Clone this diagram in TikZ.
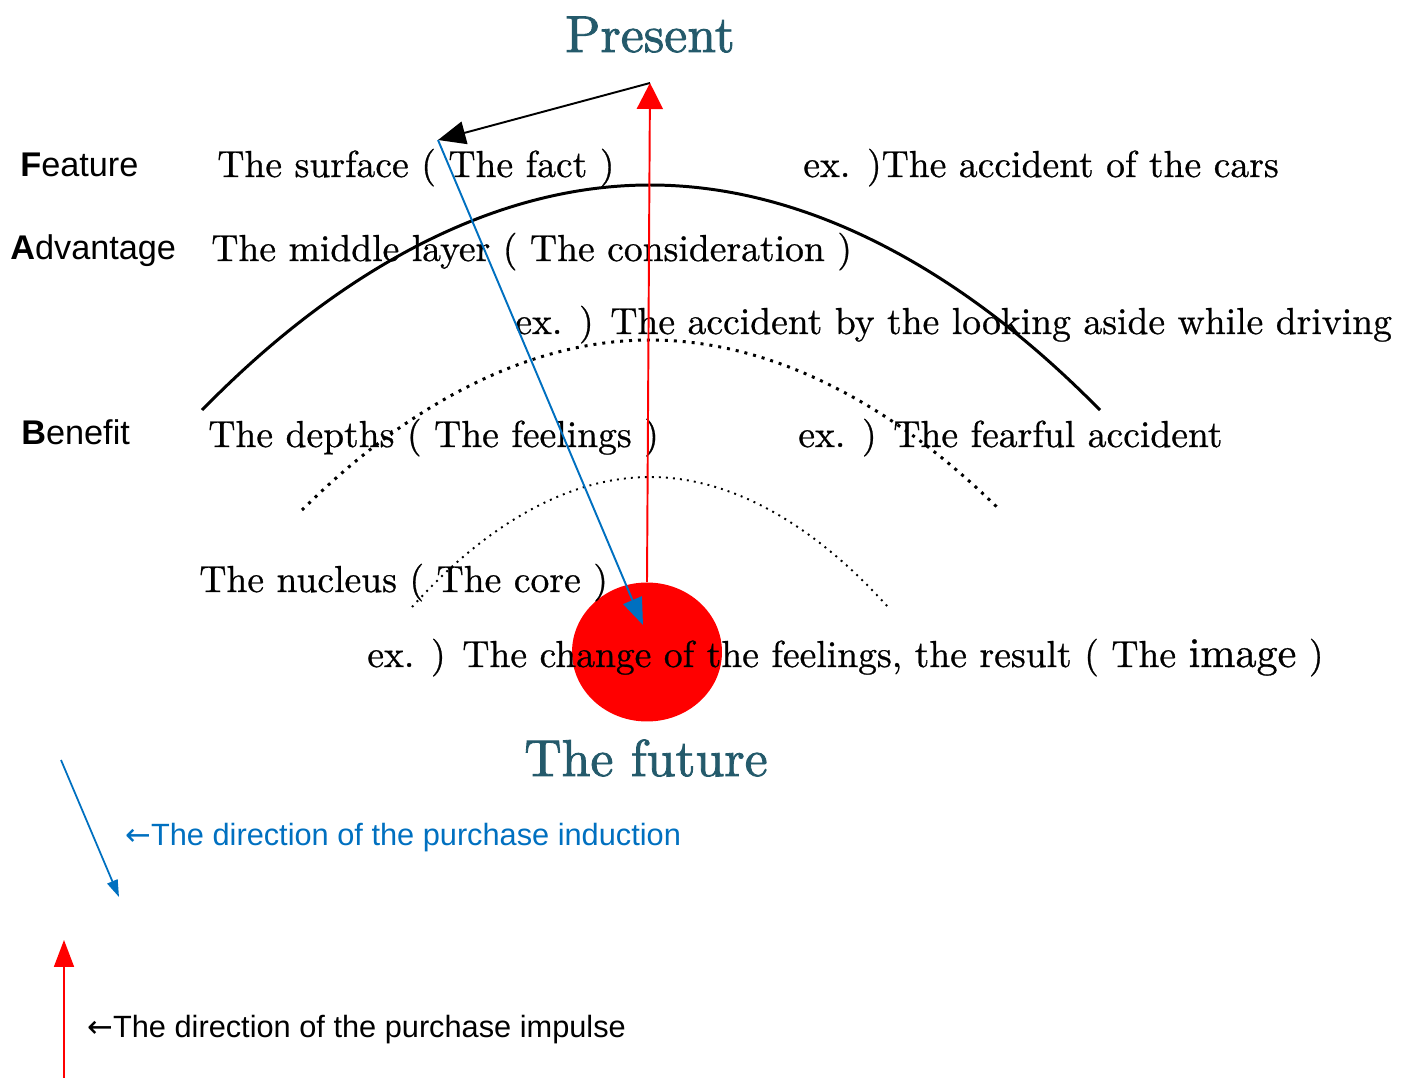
\documentclass[tikz,border=0pt]{standalone}
\usepackage{fontspec}
\newfontfamily\gothic{Liberation Sans}
\newfontfamily\symbfont{DejaVu Sans}
\newfontfamily\century{lmroman10-regular.otf}[FakeBold=0.7]
\newfontfamily\centuryTitle{lmroman10-regular.otf}[FakeBold=1.6]
\usepackage{tikz}
\usetikzlibrary{positioning,arrows.meta,shapes.geometric}
\usepackage{xcolor}
\definecolor{timeTeal}{HTML}{245A6B}
\definecolor{pushBlue}{HTML}{0070C0}
\definecolor{pullRed}{HTML}{FF0000}

\begin{document}
\begin{tikzpicture}[
    x=0.02cm, y=-0.02cm,
    layerText/.style={anchor=base west, inner sep=0pt, font=\century\fontsize{21.4}{25}\selectfont},
    fabLabel/.style={anchor=base west, inner sep=0pt, font=\gothic\fontsize{19.5}{23}\selectfont},
    timeText/.style={anchor=base, inner sep=0pt, text=timeTeal, font=\centuryTitle\fontsize{29.5}{35}\selectfont},
    legendText/.style={anchor=base west, inner sep=0pt, font=\gothic\fontsize{17.5}{21}\selectfont},
    arrowStyle/.style={line width=1.1pt, -{Triangle[length=0.55cm, width=0.46cm]}}
]
    \useasboundingbox (0,0) rectangle (1418,1078);

    % Kern
    \node[ellipse, fill=pullRed, inner sep=0pt, minimum width=3cm, minimum height=2.78cm] (core) at (647,652) {};

    % Schichten
    \draw[line width=1.7pt] (202,410) parabola bend (650,185) (1100,410);
    \draw[line width=1.7pt, dash pattern=on 1.7pt off 3.4pt] (302,510) parabola bend (650,340) (1000,510);
    \draw[line width=1.1pt, dash pattern=on 1.1pt off 2.9pt] (412,607) parabola bend (650,477) (888,607);

    \node[timeText] (present) at (650,52) {Present};
    \node[timeText] (future) at (646,776) {The future};

    % FAB
    \node[fabLabel] (feat) at (20,176) {\textbf{F}eature};
    \node[fabLabel] (adv) at (10,259) {\textbf{A}dvantage};
    \node[fabLabel] (bene) at (21,444) {\textbf{B}enefit};

    \node[layerText] (surface) at (217,177) {The surface ( The fact )};
    \node[layerText] (surfaceEx) at (803,177) {ex. )The accident of the cars};
    \node[layerText] (middle) at (211,261) {The middle layer ( The consideration )};
    \node[layerText] (middleEx) at (515,334) {ex. ) The accident by the looking aside while driving};
    \node[layerText] (depths) at (208,447) {The depths ( The feelings )};
    \node[layerText] (depthsEx) at (798,447) {ex. ) The fearful accident};
    \node[layerText] (nucleus) at (199,592) {The nucleus ( The core )};
    \node[layerText] (nucleusEx) at (367,667) {ex. ) The change of the feelings, the result ( The {\fontsize{24}{28}\selectfont image} )};

    % Pfeile
    \coordinate (apex) at (650,83);
    \coordinate (surf) at (438,140);
    \coordinate (hit) at (643,625);
    \draw[arrowStyle] (apex) -- (surf);
    \draw[arrowStyle, draw=pullRed, fill=pullRed, line width=1.1pt, -{Triangle[length=0.52cm, width=0.52cm]}] (core.north) -- (apex);
    \draw[arrowStyle, draw=pushBlue, fill=pushBlue, line width=1.1pt, -{Triangle[length=0.54cm, width=0.4cm]}] (surf) -- (hit);

    % Legende
    \coordinate (indStart) at (61,760);
    \coordinate (indEnd) at (119,897);
    \coordinate (impStart) at (64,1078);
    \coordinate (impEnd) at (64,940);
    \draw[draw=pushBlue, fill=pushBlue, line width=1pt, -{Triangle[length=0.34cm, width=0.22cm]}] (indStart) -- (indEnd);
    \draw[draw=pullRed, fill=pullRed, line width=1pt, -{Triangle[length=0.54cm, width=0.4cm]}] (impStart) -- (impEnd);
    \node[legendText, text=pushBlue] (indText) at (125,845) {{\symbfont ←}The direction of the purchase induction};
    \node[legendText] (impText) at (87,1037) {{\symbfont ←}The direction of the purchase impulse};
\end{tikzpicture}
\end{document}
